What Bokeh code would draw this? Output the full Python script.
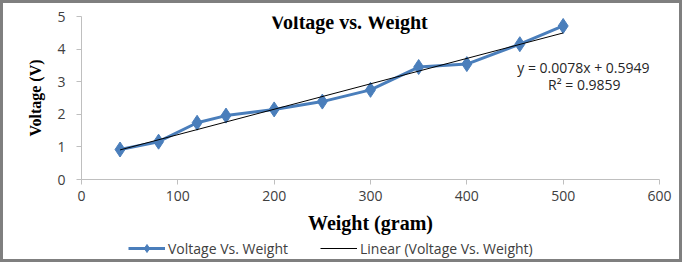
from bokeh.plotting import figure
from bokeh.layouts import column
from bokeh.models import Label, Legend, LegendItem, FixedTicker
from bokeh.embed import file_html
from bokeh.resources import INLINE

# Data
weight = [40, 80, 120, 150, 200, 250, 300, 350, 400, 455, 500]
voltage = [0.92, 1.16, 1.74, 1.96, 2.15, 2.39, 2.75, 3.45, 3.54, 4.15, 4.71]
slope = 0.0078
intercept = 0.5949
r2 = 0.9859
x_ticks = [0, 100, 200, 300, 400, 500, 600]
y_ticks = [0, 1, 2, 3, 4, 5]

trend_x = [min(weight), max(weight)]
trend_y = [slope * x + intercept for x in trend_x]

BLUE = "#4a7ebb"
SANS = "Open Sans"
SERIF = "Liberation Serif"

p = figure(width=676, height=234, output_backend="svg", toolbar_location=None,
           x_range=(0, 600), y_range=(0, 5),
           min_border_left=78, min_border_right=20, min_border_top=13, min_border_bottom=58)
p.outline_line_color = None
p.xgrid.visible = False
p.ygrid.visible = False
p.background_fill_color = "white"
p.border_fill_color = "white"

for ax in (p.xaxis[0], p.yaxis[0]):
    ax.axis_line_color = "#bfbfbf"
    ax.major_tick_line_color = "#bfbfbf"
    ax.major_tick_out = 5
    ax.major_tick_in = 0
    ax.minor_tick_line_color = None
    ax.major_label_text_font = SANS
    ax.major_label_text_font_size = "14px"
    ax.major_label_text_color = "#404040"
    ax.axis_label_text_font = SERIF
    ax.axis_label_text_font_style = "bold"
    ax.axis_label_text_color = "black"

p.xaxis.ticker = FixedTicker(ticks=x_ticks)
p.yaxis.ticker = FixedTicker(ticks=y_ticks)
p.xaxis.axis_label = "Weight (gram)"
p.yaxis.axis_label = "Voltage (V)"
p.xaxis.axis_label_text_font_size = "20px"
p.yaxis.axis_label_text_font_size = "16px"
p.yaxis.major_label_standoff = 11
p.xaxis.major_label_standoff = 6
p.yaxis.axis_label_standoff = 10
p.xaxis.axis_label_standoff = 8

p.line(weight, voltage, line_color=BLUE, line_width=3)
p.scatter(weight, voltage, marker="diamond", size=15, fill_color=BLUE, line_color=BLUE)
p.line(trend_x, trend_y, line_color="black", line_width=1)

p.add_layout(Label(x=278, y=4.82, text="Voltage vs. Weight", text_font=SERIF,
                   text_font_style="bold", text_font_size="20px", text_align="center",
                   text_baseline="middle", text_color="black"))
p.add_layout(Label(x=521, y=3.44, text=f"y = {slope}x + {intercept}", text_font=SANS,
                   text_font_size="14px", text_align="center", text_baseline="middle",
                   text_color="#262626"))
p.add_layout(Label(x=522, y=2.91, text=f"R² = {r2}", text_font=SANS,
                   text_font_size="14px", text_align="center", text_baseline="middle",
                   text_color="#262626"))

# legend strip below the chart (its swatch renderers lie outside its visible range)
lg = figure(width=676, height=22, output_backend="svg", toolbar_location=None,
            x_range=(10000, 10001), y_range=(10000, 10001),
            x_axis_location=None, y_axis_location=None,
            min_border_left=0, min_border_right=0, min_border_top=0, min_border_bottom=0)
lg.outline_line_color = None
lg.xgrid.visible = False
lg.ygrid.visible = False
lg_line = lg.line(weight, voltage, line_color=BLUE, line_width=3)
lg_mark = lg.scatter(weight, voltage, marker="diamond", size=9, fill_color=BLUE, line_color=BLUE)
lg_trend = lg.line(trend_x, trend_y, line_color="black", line_width=1)
legend = Legend(items=[LegendItem(label="Voltage Vs. Weight", renderers=[lg_line, lg_mark]),
                       LegendItem(label="Linear (Voltage Vs. Weight)", renderers=[lg_trend])],
                orientation="horizontal", location=(47, 1),
                label_text_font=SANS, label_text_font_size="14px", label_text_color="#404040",
                glyph_width=37, glyph_height=20, spacing=32, padding=0, margin=0,
                label_height=20, border_line_color=None, background_fill_alpha=0,
                label_standoff=3)
lg.add_layout(legend)

layout = column(p, lg, spacing=0, styles={"border": "3px solid #7f7f7f", "background": "white"})

open("out.html", "w").write(file_html(layout, INLINE))
